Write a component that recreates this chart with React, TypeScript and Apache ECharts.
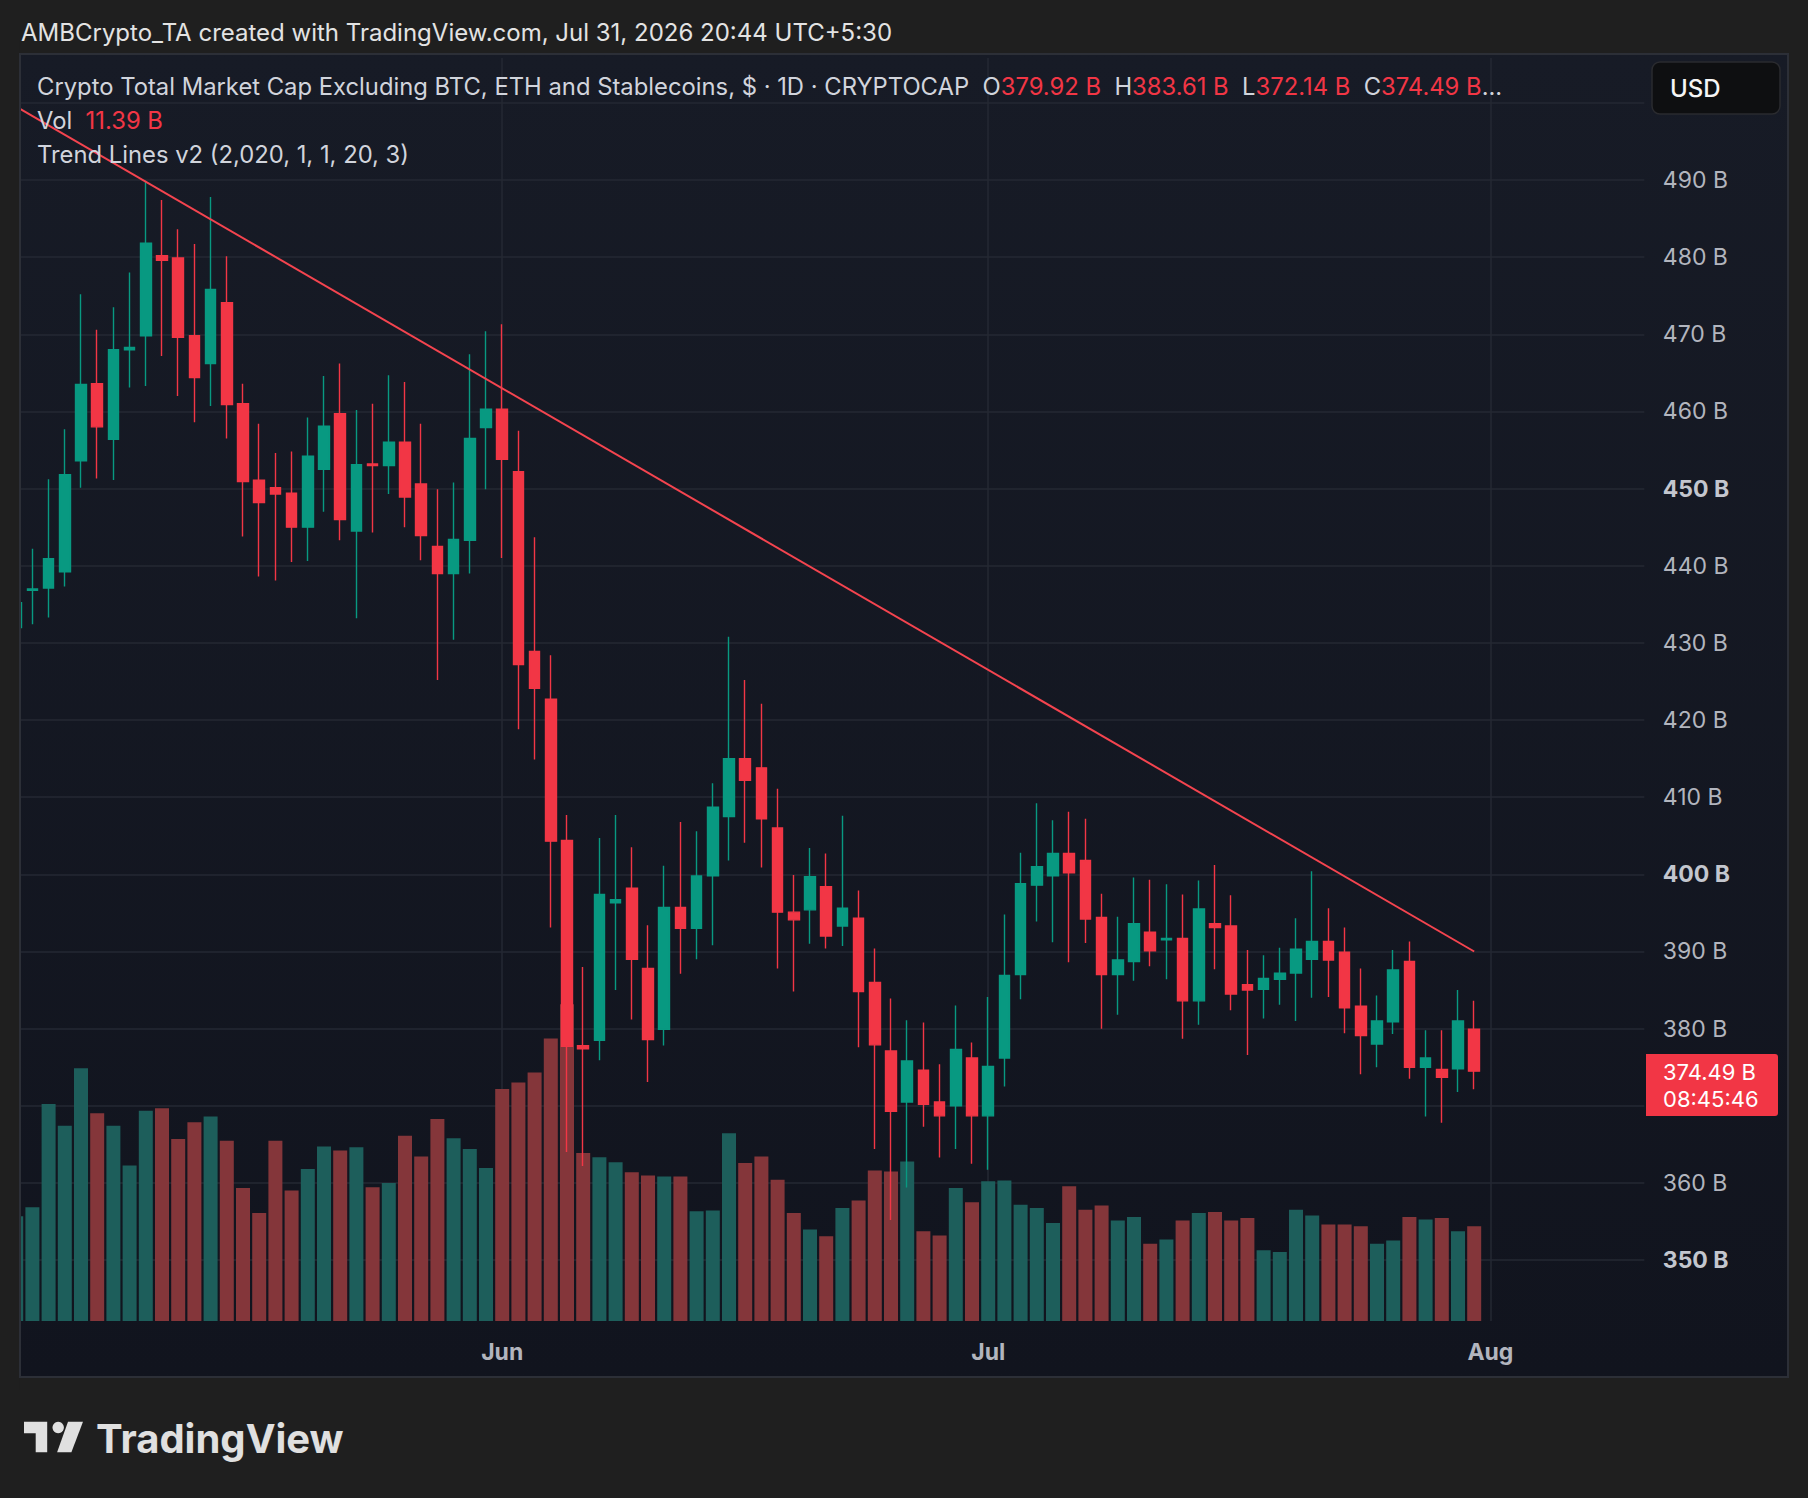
import React, { useEffect, useRef } from "react";
import * as echarts from "echarts";

// ---------- data ----------
const START_UTC = Date.UTC(2026, 4, 2); // first visible candle: 2 May 2026
const CATEGORY_COUNT = 101; // daily slots shown on the time axis (to ~10 Aug)

const opens = [
  432.0, 436.8, 437.1, 439.2, 453.6, 463.6, 456.4, 468.0, 469.8, 480.2,
  479.9, 469.8, 466.2, 474.1, 461.0, 451.1, 450.1, 449.4, 445.0, 452.5,
  459.7, 444.5, 453.2, 453.0, 456.0, 450.6, 442.5, 439.0, 443.3, 457.9,
  460.3, 452.2, 428.9, 422.7, 404.4, 377.8, 378.5, 396.3, 398.2, 387.8,
  379.9, 395.7, 393.0, 399.8, 407.5, 415.0, 413.8, 406.0, 395.1, 395.4,
  398.4, 393.3, 394.3, 386.0, 377.1, 370.5, 374.6, 370.5, 370.0, 376.2,
  368.7, 376.2, 387.0, 398.6, 399.8, 402.7, 401.8, 394.4, 387.0, 388.7,
  392.5, 391.5, 391.7, 383.6, 393.6, 393.3, 385.7, 385.1, 386.4, 387.2,
  389.0, 391.3, 389.9, 382.9, 378.0, 380.9, 388.7, 375.0, 374.7, 374.8,
  379.92,
];
const closes = [
  435.2, 437.0, 440.9, 451.8, 463.5, 458.0, 468.0, 468.3, 481.8, 479.6,
  469.6, 464.4, 475.8, 460.9, 450.9, 448.2, 449.3, 445.0, 454.2, 458.1,
  446.0, 453.1, 453.0, 456.0, 448.9, 443.9, 439.0, 443.4, 456.5, 460.3,
  453.8, 427.2, 424.1, 404.3, 377.7, 377.4, 397.4, 396.7, 389.0, 378.6,
  395.7, 393.0, 399.8, 408.7, 415.0, 412.2, 407.2, 395.1, 394.1, 399.7,
  392.0, 395.6, 384.8, 377.9, 369.3, 375.8, 370.2, 368.7, 377.3, 368.7,
  375.1, 386.9, 398.8, 401.0, 402.7, 400.2, 394.2, 387.0, 388.9, 393.6,
  390.1, 391.7, 383.6, 395.5, 393.1, 384.5, 385.0, 386.5, 387.2, 390.3,
  391.3, 388.9, 382.7, 379.1, 381.0, 387.6, 375.0, 376.2, 373.7, 381.0,
  374.49,
];
const lows = [
  430.8, 432.4, 433.3, 437.3, 450.1, 451.3, 451.1, 463.1, 463.3, 467.2,
  462.0, 458.6, 460.7, 456.5, 443.8, 438.6, 438.1, 440.5, 440.6, 447.0,
  443.3, 433.2, 444.3, 449.3, 445.0, 440.7, 425.2, 430.4, 439.0, 449.9,
  441.0, 418.8, 414.9, 393.1, 364.0, 362.2, 375.9, 385.0, 381.2, 373.1,
  377.8, 387.1, 389.0, 390.8, 401.8, 404.1, 400.9, 387.8, 384.8, 391.0,
  390.4, 390.7, 377.6, 364.4, 355.2, 359.4, 367.3, 363.3, 364.4, 362.5,
  361.7, 372.5, 383.8, 393.9, 391.2, 388.6, 391.1, 380.0, 381.8, 386.2,
  388.1, 386.4, 378.7, 380.5, 387.7, 382.4, 376.6, 381.3, 383.1, 381.0,
  384.0, 384.1, 379.4, 374.1, 375.0, 379.3, 373.5, 368.6, 367.8, 371.8,
  372.14,
];
const highs = [
  436.5, 442.2, 451.2, 457.7, 475.2, 470.6, 473.5, 478.0, 489.9, 487.4,
  483.6, 481.7, 487.8, 480.1, 463.6, 458.4, 454.6, 454.8, 459.2, 464.6,
  466.2, 460.2, 461.0, 464.7, 463.8, 458.4, 449.9, 450.8, 467.4, 470.4,
  471.3, 457.5, 443.7, 428.4, 407.7, 388.0, 404.7, 407.7, 403.5, 393.4,
  401.1, 406.8, 405.6, 411.8, 430.8, 425.2, 422.1, 411.1, 399.9, 403.4,
  402.7, 407.6, 397.9, 390.4, 383.9, 381.1, 380.8, 375.4, 383.0, 378.2,
  384.1, 394.8, 402.8, 409.2, 407.0, 408.1, 407.2, 397.5, 394.5, 399.6,
  399.3, 398.7, 397.4, 399.2, 401.2, 397.3, 390.2, 389.5, 390.5, 394.3,
  400.4, 395.6, 393.1, 387.8, 384.3, 390.2, 391.3, 379.8, 379.8, 385.0,
  383.61,
];
// daily volume, billions
const volumes = [
  12.6, 13.7, 26.1, 23.5, 30.4, 25.0, 23.5, 18.7, 25.3, 25.6,
  21.9, 23.9, 24.6, 21.7, 16.0, 13.0, 21.7, 15.7, 18.3, 21.0,
  20.5, 20.9, 16.1, 16.6, 22.3, 19.8, 24.3, 22.0, 20.7, 18.4,
  27.9, 28.7, 29.9, 34.0, 38.1, 20.2, 19.7, 19.1, 17.9, 17.5,
  17.4, 17.4, 13.2, 13.3, 22.6, 19.0, 19.8, 17.0, 13.0, 11.0,
  10.2, 13.6, 14.5, 18.1, 18.0, 19.2, 10.8, 10.3, 16.0, 14.3,
  16.8, 16.9, 14.0, 13.6, 11.8, 16.2, 13.4, 13.9, 12.1, 12.5,
  9.3, 9.8, 12.1, 13.0, 13.1, 12.1, 12.4, 8.5, 8.3, 13.4,
  12.7, 11.6, 11.6, 11.4, 9.3, 9.7, 12.5, 12.2, 12.4, 10.8,
  11.39,
];
// "Trend Lines v2" descending line: value at first candle and at last candle
const trendStartValue = 499.5;
const trendEndValue = 390.0;

const priceTicksShown = [490, 480, 470, 460, 450, 440, 430, 420, 410, 400, 390, 380, 360, 350];
const priceTicksBold = [450, 400, 350];
const monthNames: Record<string, string> = { "05": "May", "06": "Jun", "07": "Jul", "08": "Aug" };

const titleText = "AMBCrypto_TA created with TradingView.com, Jul 31, 2026 20:44 UTC+5:30";
const symbolText = "Crypto Total Market Cap Excluding BTC, ETH and Stablecoins, $ · 1D · CRYPTOCAP";
const ohlcLabels = ["O", "H", "L", "C"];
const ohlcValues = ["379.92 B", "383.61 B", "372.14 B", "374.49 B"];
const volLabel = "11.39 B";
const indicatorText = "Trend Lines v2 (2,020, 1, 1, 20, 3)";
const lastPriceText = "374.49 B";
const countdownText = "08:45:46";

// ---------- styles ----------
const FONT = "Inter, 'Noto Sans', sans-serif";
const UP = "#089981";
const DOWN = "#f23645";
const VOL_UP = "#1d5e5b";
const VOL_DOWN = "#84363a";
const GRID_LINE = "#242833";
const AXIS_TEXT = "#b2b5be";
const OUTER_BG = "#1f1f1f";

function buildDates(): string[] {
  const out: string[] = [];
  for (let i = 0; i < CATEGORY_COUNT; i++) {
    out.push(new Date(START_UTC + i * 86400000).toISOString().slice(0, 10));
  }
  return out;
}

const isMonthStart = (_i: number, v: string) => String(v).slice(8, 10) === "01";

export default function App() {
  const ref = useRef<HTMLDivElement>(null);

  useEffect(() => {
    if (!ref.current) return;
    const chart = echarts.init(ref.current, null, { renderer: "svg" });
    const dates = buildDates();

    const candleData = opens.map((o, i) => [o, closes[i], lows[i], highs[i]]);
    const volData = volumes.map((v, i) => ({
      value: v,
      itemStyle: { color: closes[i] >= opens[i] ? VOL_UP : VOL_DOWN },
    }));
    const trendData = opens.map((_, i) =>
      i === 0 ? trendStartValue : i === opens.length - 1 ? trendEndValue : null
    );

    let headerRich = `{w|${symbolText}  }`;
    ohlcLabels.forEach((l, i) => {
      headerRich += `{w|${l}}{r|${ohlcValues[i]}}{w|${i < 3 ? "  " : "..."}}`;
    });

    const textStyle = (size: number, color: string, weight: any = "normal") => ({
      fill: color,
      fontSize: size,
      fontFamily: FONT,
      fontWeight: weight,
    });

    const option: any = {
      animation: false,
      backgroundColor: OUTER_BG,
      grid: [
        { left: 8.1, right: 163.7, top: 58, bottom: 160.75, outerBoundsMode: "none" },
        { left: 8.1, right: 163.7, top: 58, bottom: 177, outerBoundsMode: "none" },
      ],
      xAxis: [
        { type: "category", gridIndex: 0, data: dates, show: false, boundaryGap: true },
        {
          type: "category",
          gridIndex: 1,
          data: dates,
          boundaryGap: true,
          axisLine: { show: false },
          axisTick: { show: false },
          axisLabel: {
            interval: isMonthStart,
            formatter: (v: string) => monthNames[v.slice(5, 7)] || "",
            color: AXIS_TEXT,
            fontSize: 23,
            fontWeight: "bold",
            fontFamily: FONT,
            margin: 19,
          },
          splitLine: {
            show: true,
            alignWithLabel: true,
            interval: isMonthStart,
            lineStyle: { color: GRID_LINE, width: 1.5 },
          },
        },
      ],
      yAxis: [
        {
          type: "value",
          gridIndex: 0,
          position: "right",
          min: 340,
          max: 505.81,
          interval: 10,
          axisLine: { show: false },
          axisTick: { show: false },
          splitLine: {
            show: true,
            showMinLine: false,
            showMaxLine: false,
            lineStyle: { color: GRID_LINE, width: 1.5 },
          },
          axisLabel: {
            margin: 18.5,
            formatter: (v: number) => {
              const r = Math.round(v);
              if (Math.abs(v - r) > 1e-6 || priceTicksShown.indexOf(r) < 0) return "";
              return priceTicksBold.indexOf(r) >= 0 ? `{b|${r} B}` : `{n|${r} B}`;
            },
            rich: {
              n: { color: AXIS_TEXT, fontSize: 23, fontFamily: FONT },
              b: { color: "#c3c6ce", fontSize: 23, fontFamily: FONT, fontWeight: "bold" },
            },
          },
        },
        { type: "value", gridIndex: 1, min: 0, max: 151.96, show: false, splitLine: { show: false } },
      ],
      series: [
        {
          type: "bar",
          name: "Volume",
          xAxisIndex: 1,
          yAxisIndex: 1,
          data: volData,
          barWidth: 14,
          silent: true,
        },
        {
          type: "candlestick",
          name: "CRYPTOCAP",
          xAxisIndex: 0,
          yAxisIndex: 0,
          data: candleData,
          barWidth: 11,
          itemStyle: {
            color: UP,
            color0: DOWN,
            borderColor: UP,
            borderColor0: DOWN,
            borderWidth: 1.4,
          },
          silent: true,
        },
        {
          type: "line",
          name: "Trend",
          xAxisIndex: 0,
          yAxisIndex: 0,
          data: trendData,
          connectNulls: true,
          symbol: "none",
          lineStyle: { color: "#f4444f", width: 2 },
          silent: true,
        },
      ],
      graphic: [
        // chart panel background
        {
          type: "rect",
          z: -1,
          silent: true,
          shape: { x: 20, y: 54, width: 1768, height: 1323 },
          style: {
            fill: new echarts.graphic.LinearGradient(0, 0, 0, 1, [
              { offset: 0, color: "#171b26" },
              { offset: 1, color: "#11141e" },
            ]),
          },
        },
        // mask left of the panel (clips the first half-candle)
        {
          type: "rect",
          z: 50,
          silent: true,
          shape: { x: 0, y: 40, width: 19.5, height: 1350 },
          style: { fill: OUTER_BG },
        },
        // panel border
        {
          type: "rect",
          z: 60,
          silent: true,
          shape: { x: 20, y: 54, width: 1768, height: 1323 },
          style: { fill: "none", stroke: "#2c2f37", lineWidth: 2 },
        },
        // top title
        {
          type: "text",
          z: 70,
          x: 21,
          y: 32,
          style: { text: titleText, ...textStyle(24, "#e3e3e3"), verticalAlign: "middle", textVerticalAlign: "middle" },
        },
        // symbol header line
        {
          type: "text",
          z: 70,
          x: 37,
          y: 86,
          style: {
            text: headerRich,
            verticalAlign: "middle",
            textVerticalAlign: "middle",
            rich: {
              w: textStyle(23.8, "#d1d4dc"),
              r: textStyle(23.8, DOWN),
            },
          },
        },
        {
          type: "text",
          z: 70,
          x: 37,
          y: 120,
          style: {
            text: `{w|Vol}{r|  ${volLabel}}`,
            verticalAlign: "middle",
            textVerticalAlign: "middle",
            rich: { w: textStyle(23.8, "#d1d4dc"), r: textStyle(23.8, DOWN) },
          },
        },
        {
          type: "text",
          z: 70,
          x: 37,
          y: 154,
          style: { text: indicatorText, ...textStyle(23.8, "#d1d4dc"), verticalAlign: "middle", textVerticalAlign: "middle" },
        },
        // USD button
        {
          type: "rect",
          z: 70,
          shape: { x: 1652, y: 62, width: 128, height: 52, r: 8 },
          style: { fill: "#0e0f11", stroke: "#2a2b2f", lineWidth: 1.5 },
        },
        {
          type: "text",
          z: 71,
          x: 1670,
          y: 88,
          style: { text: "USD", ...textStyle(24, "#f5f5f5", 500), verticalAlign: "middle", textVerticalAlign: "middle" },
        },
        // last price label
        {
          type: "rect",
          z: 70,
          shape: { x: 1646, y: 1054, width: 132, height: 62, r: [0, 3, 3, 0] },
          style: { fill: DOWN },
        },
        {
          type: "text",
          z: 71,
          x: 1663,
          y: 1072,
          style: { text: lastPriceText, ...textStyle(22, "#ffffff"), verticalAlign: "middle", textVerticalAlign: "middle" },
        },
        {
          type: "text",
          z: 71,
          x: 1663,
          y: 1099,
          style: { text: countdownText, ...textStyle(22, "#ffffff"), verticalAlign: "middle", textVerticalAlign: "middle" },
        },
        // TradingView logo
        {
          type: "polygon",
          z: 70,
          shape: { points: [[24, 1421.7], [47.2, 1421.7], [47.2, 1452.3], [35.7, 1452.3], [35.7, 1433.3], [24, 1433.3]] },
          style: { fill: "#e0e0e0" },
        },
        {
          type: "circle",
          z: 70,
          shape: { cx: 58.2, cy: 1427.5, r: 5.7 },
          style: { fill: "#e0e0e0" },
        },
        {
          type: "polygon",
          z: 70,
          shape: { points: [[68, 1421.7], [83, 1421.7], [71.4, 1452.3], [57.1, 1452.3]] },
          style: { fill: "#e0e0e0" },
        },
        {
          type: "text",
          z: 70,
          x: 96,
          y: 1438,
          style: { text: "TradingView", ...textStyle(40, "#e0e0e0", "bold"), verticalAlign: "middle", textVerticalAlign: "middle" },
        },
      ],
    };

    chart.setOption(option);
    return () => chart.dispose();
  }, []);

  return (
    <div
      ref={ref}
      style={{ position: "absolute", left: 0, top: 0, width: 1808, height: 1498 }}
    />
  );
}
